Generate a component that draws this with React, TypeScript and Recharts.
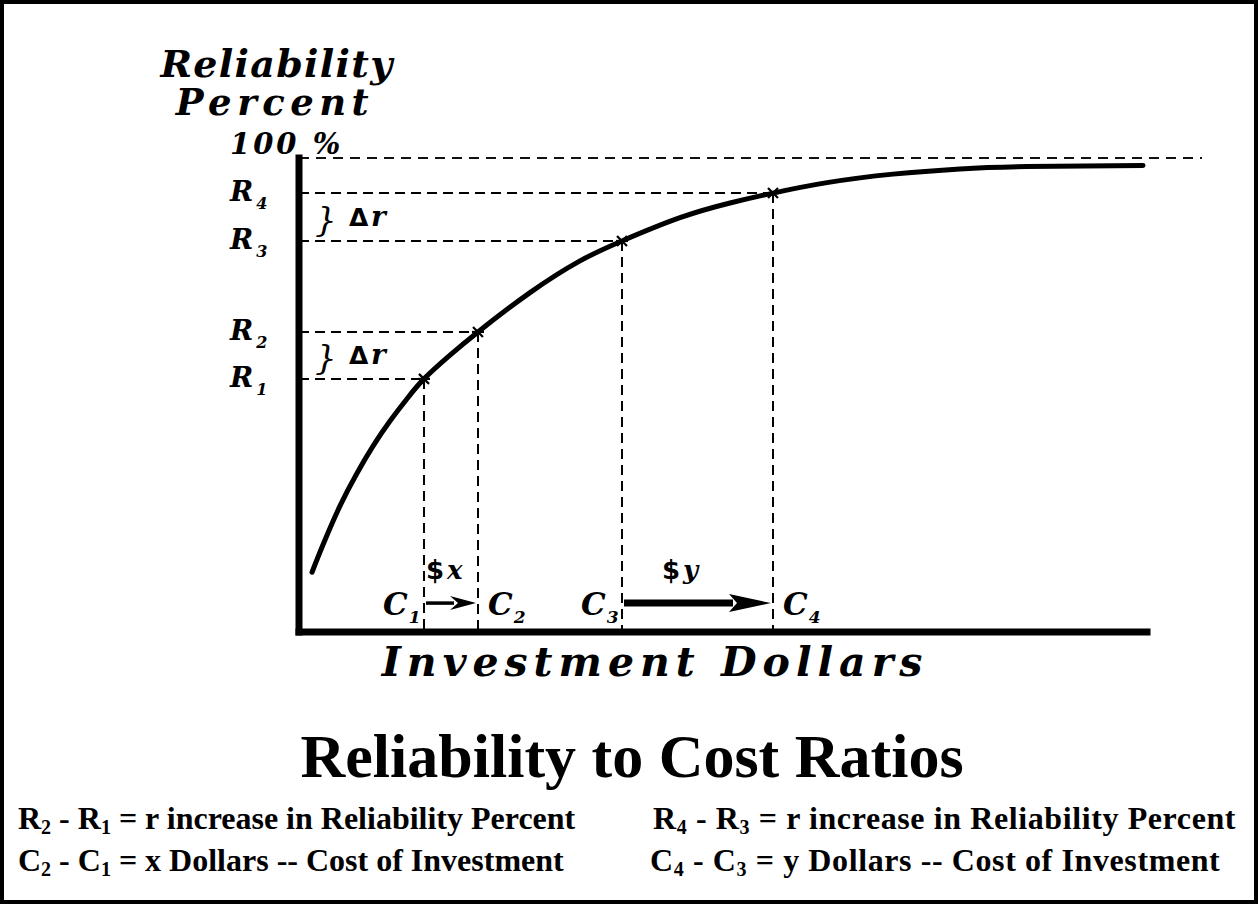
import React from 'react';
import { LineChart, Line, XAxis, YAxis, ReferenceLine, ReferenceDot } from 'recharts';

// Curve (x: investment units, y: reliability percent)
const curveX = [13, 24, 41, 58, 74, 91, 108, 125, 151, 179, 231, 281, 323, 381, 431, 474, 528, 594, 661, 728, 844];
const curveY = [12.6, 18.4, 26.6, 33.5, 39.2, 44.5, 49.2, 53.4, 58.4, 63.3, 71.6, 78.3, 82.5, 87.4, 90.5, 92.6, 94.8, 96.6, 97.7, 98.2, 98.4];

// Marked points C1..C4 / R1..R4
const levelSubs = ['1', '2', '3', '4'];
const costX = [125, 179, 323, 474];
const reliabilityY = [53.4, 63.3, 82.5, 92.6];

// Axis extents and guide lines
const X_DOMAIN: [number, number] = [0, 910];
const Y_DOMAIN: [number, number] = [0, 100];
const X_AXIS_END = 848;
const HUNDRED_LINE_END = 903;
const ARROW_LEVEL = 6.1;

const data = curveX.map((x, i) => ({ x, y: curveY[i] }));

const ITAL = { fontFamily: 'DejaVu Serif', fontStyle: 'italic', fontWeight: 'bold' } as const;

const RLabel = (props: any) => {
  const { viewBox, sub, brace } = props;
  const vb = viewBox || { x: 0, y: 0 };
  const x = vb.x - 69;
  const y = vb.y + 8;
  return (
    <g>
      <text x={x} y={y} {...ITAL} fontSize={28} fill="#000">
        R<tspan dx={3} dy={8} fontSize={16}>{sub}</tspan>
      </text>
      {brace && (
        <g>
          <text x={vb.x + 16} y={vb.y - 10} {...ITAL} fontWeight="normal" fontSize={34} fill="#000">{'}'}</text>
          <text x={vb.x + 50} y={vb.y - 15} fontFamily="DejaVu Sans" fontWeight="bold" fontSize={25} fill="#000">Δ</text>
          <text x={vb.x + 72} y={vb.y - 15} {...ITAL} fontSize={28} fill="#000">r</text>
        </g>
      )}
    </g>
  );
};

const CLabel = (props: any) => {
  const { viewBox, sub, side } = props;
  const vb = viewBox || { x: 0, y: 0, height: 0 };
  const bottom = vb.y + (vb.height || 0);
  const y = bottom - 17;
  const x = side === 'left' ? vb.x - 41 : vb.x + 10;
  return (
    <text x={x} y={y} {...ITAL} fontSize={31} fill="#000">
      C<tspan dx={1} dy={8} fontSize={17}>{sub}</tspan>
    </text>
  );
};

const DollarLabel = (props: any) => {
  const { viewBox, text, dx } = props;
  const vb = viewBox || { x: 0, y: 0 };
  return (
    <text x={vb.x + dx} y={vb.y - 24} {...ITAL} fontSize={26} fill="#000">
      <tspan fontFamily="DejaVu Sans" fontStyle="normal">$</tspan>
      <tspan dx={3}>{text}</tspan>
    </text>
  );
};

const makeArrow = (thick: boolean) => (props: any) => {
  const { x1, y1, x2 } = props;
  const head = thick ? 44 : 28;
  const hh = thick ? 9 : 7;
  const sw = thick ? 7 : 3.5;
  return (
    <g>
      <line x1={x1 + 2} y1={y1} x2={x2 - head + 4} y2={y1} stroke="#000" strokeWidth={sw} />
      <polygon points={`${x2 - 2},${y1} ${x2 - head},${y1 - hh} ${x2 - head + 8},${y1} ${x2 - head},${y1 + hh}`} fill="#000" />
    </g>
  );
};

const Asterisk = (props: any) => {
  const { cx, cy } = props;
  const s = 5;
  return (
    <g stroke="#000" strokeWidth={2.2}>
      <line x1={cx - s} y1={cy - s} x2={cx + s} y2={cy + s} />
      <line x1={cx - s} y1={cy + s} x2={cx + s} y2={cy - s} />
      <line x1={cx - s - 1} y1={cy} x2={cx + s + 1} y2={cy} />
    </g>
  );
};

export default function App() {
  return (
    <div style={{ position: 'absolute', left: 0, top: 0, width: 1259, height: 905, background: '#fff' }}>
      <LineChart width={1259} height={905} data={data} margin={{ top: 158, right: 50, bottom: 273, left: 299 }}>
        <XAxis dataKey="x" type="number" domain={X_DOMAIN} hide allowDataOverflow />
        <YAxis type="number" domain={Y_DOMAIN} hide allowDataOverflow />

        <ReferenceLine
          segment={[{ x: 0, y: 100 }, { x: HUNDRED_LINE_END, y: 100 }]}
          stroke="#111" strokeWidth={1.8} strokeDasharray="10 7" ifOverflow="visible"
        />

        {costX.map((c, i) => (
          <ReferenceLine
            key={'h' + i}
            segment={[{ x: 0, y: reliabilityY[i] }, { x: c, y: reliabilityY[i] }]}
            stroke="#000" strokeWidth={2} strokeDasharray="10 6" ifOverflow="visible"
            label={<RLabel sub={levelSubs[i]} brace={i === 0 || i === 2} />}
          />
        ))}
        {costX.map((c, i) => (
          <ReferenceLine
            key={'v' + i}
            segment={[{ x: c, y: reliabilityY[i] }, { x: c, y: 0 }]}
            stroke="#000" strokeWidth={2} strokeDasharray="10 6" ifOverflow="visible"
            label={<CLabel sub={levelSubs[i]} side={i === 0 || i === 2 ? 'left' : 'right'} />}
          />
        ))}

        <ReferenceLine
          segment={[{ x: costX[0], y: ARROW_LEVEL }, { x: costX[1], y: ARROW_LEVEL }]}
          ifOverflow="visible" shape={makeArrow(false)}
          label={<DollarLabel text="x" dx={2} />}
        />
        <ReferenceLine
          segment={[{ x: costX[2], y: ARROW_LEVEL }, { x: costX[3], y: ARROW_LEVEL }]}
          ifOverflow="visible" shape={makeArrow(true)}
          label={<DollarLabel text="y" dx={40} />}
        />

        <ReferenceLine
          segment={[{ x: 0, y: 0 }, { x: 0, y: 100 }]}
          stroke="#000" strokeWidth={7} strokeLinecap="square" ifOverflow="visible"
        />
        <ReferenceLine
          segment={[{ x: 0, y: 0 }, { x: X_AXIS_END, y: 0 }]}
          stroke="#000" strokeWidth={7} strokeLinecap="square" ifOverflow="visible"
        />

        <Line
          dataKey="y" type="natural" stroke="#000" strokeWidth={5} dot={false}
          strokeLinecap="round" isAnimationActive={false}
        />

        {costX.map((c, i) => (
          <ReferenceDot key={'d' + i} x={c} y={reliabilityY[i]} r={5} ifOverflow="visible" shape={Asterisk} />
        ))}
      </LineChart>

      <svg width={1259} height={905} style={{ position: 'absolute', left: 0, top: 0, pointerEvents: 'none' }}>
        <rect x={2} y={2} width={1254} height={900} fill="none" stroke="#000" strokeWidth={4} />
        <text x={277} y={77} textAnchor="middle" {...ITAL} fontSize={38} letterSpacing={1.3} fill="#000">Reliability</text>
        <text x={275} y={115} textAnchor="middle" {...ITAL} fontSize={37} letterSpacing={5.5} fill="#000">Percent</text>
        <text x={230} y={154} {...ITAL} fontSize={29} letterSpacing={3} fill="#000">100 %</text>
        <text x={655} y={676} textAnchor="middle" {...ITAL} fontSize={41} letterSpacing={6} fill="#000">Investment Dollars</text>
        <text x={632} y={777} textAnchor="middle" fontFamily="Liberation Serif" fontWeight="bold" fontSize={62} fill="#000">Reliability to Cost Ratios</text>

        <g fontFamily="Liberation Serif" fontWeight="bold" fontSize={32} fill="#000">
          <text x={18} y={829}>
            R<tspan fontSize={20} dy={5}>2</tspan><tspan dy={-5}> - R</tspan><tspan fontSize={20} dy={5}>1</tspan><tspan dy={-5}> = r increase in Reliability Percent</tspan>
          </text>
          <text x={18} y={871}>
            C<tspan fontSize={20} dy={5}>2</tspan><tspan dy={-5}> - C</tspan><tspan fontSize={20} dy={5}>1</tspan><tspan dy={-5}> = x Dollars -- Cost of Investment</tspan>
          </text>
          <text x={653} y={829} letterSpacing={0.6}>
            R<tspan fontSize={20} dy={5}>4</tspan><tspan dy={-5}> - R</tspan><tspan fontSize={20} dy={5}>3</tspan><tspan dy={-5}> = r increase in Reliability Percent</tspan>
          </text>
          <text x={650} y={871} letterSpacing={0.6}>
            C<tspan fontSize={20} dy={5}>4</tspan><tspan dy={-5}> - C</tspan><tspan fontSize={20} dy={5}>3</tspan><tspan dy={-5}> = y Dollars -- Cost of Investment</tspan>
          </text>
        </g>
      </svg>
    </div>
  );
}
